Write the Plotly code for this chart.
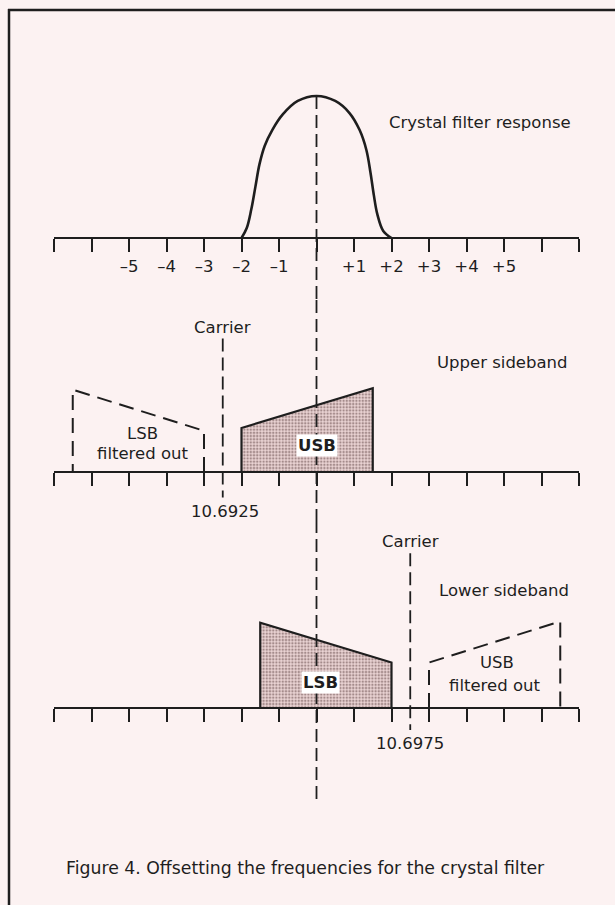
import plotly.graph_objects as go

# ---------------- data ----------------
tick_offsets = list(range(-7, 8))  # kHz offset from filter centre
tick_labels = ["", "", "–5", "–4", "–3", "–2", "–1", "", "+1", "+2", "+3", "+4", "+5", "", ""]

filter_offset = [-2.0, -1.86, -1.74, -1.63, -1.52, -1.38, -1.18, -0.9, -0.5, 0.0,
                 0.5, 0.88, 1.15, 1.33, 1.44, 1.53, 1.62, 1.78, 2.0]
filter_resp = [0.0, 0.07, 0.2, 0.36, 0.52, 0.65, 0.76, 0.87, 0.965, 1.0,
               0.965, 0.88, 0.76, 0.62, 0.46, 0.3, 0.17, 0.05, 0.0]

# Upper sideband panel
usb_carrier = -2.5
usb_carrier_label = "10.6925"
usb_x = [-2.0, -2.0, 1.5, 1.5]
usb_y = [0.0, 0.31, 0.59, 0.0]
lsb_out_x = [-3.0, -3.0, -6.5, -6.5]
lsb_out_y = [0.0, 0.29, 0.58, 0.0]

# Lower sideband panel
lsb_carrier = 2.5
lsb_carrier_label = "10.6975"
lsb_x = [-1.5, -1.5, 2.0, 2.0]
lsb_y = [0.0, 0.60, 0.32, 0.0]
usb_out_x = [3.0, 3.0, 6.5, 6.5]
usb_out_y = [0.0, 0.32, 0.61, 0.0]

# ---------------- layout helpers ----------------
W, H = 615, 905
BG = "#fcf2f2"
INK = "#1e1e1e"
FONT = "DejaVu Sans"
FS = 16.5
PPU = 142.0  # pixels per unit amplitude


def fy(px):
    return 1 - px / H


def fx(px):
    return px / W


# (top px, bottom px, baseline px)
panels = [(40, 300, 238), (300, 520, 472), (520, 800, 708)]
ranges = [[-(b - base) / PPU, (base - t) / PPU] for (t, b, base) in panels]

fig = go.Figure()

dash_c = "13px,6px"
dash_f = "15px,8px"


def add_line(x, y, i, dash=None, width=2.0, color=INK, shape="linear"):
    ax = "" if i == 1 else str(i)
    fig.add_trace(go.Scatter(x=x, y=y, mode="lines", xaxis="x" + ax, yaxis="y" + ax,
                             line=dict(color=color, width=width, dash=dash, shape=shape),
                             hoverinfo="skip", showlegend=False))


def add_fill(x, y, i):
    ax = "" if i == 1 else str(i)
    fig.add_trace(go.Scatter(x=x + [x[0]], y=y + [y[0]], mode="lines", fill="toself",
                             xaxis="x" + ax, yaxis="y" + ax,
                             fillcolor="#e2c8c8",
                             fillpattern=dict(shape=".", fgcolor="#5e4444", bgcolor="#ead3d3",
                                              size=3.2, solidity=0.45),
                             line=dict(color=INK, width=2.2),
                             hoverinfo="skip", showlegend=False))


# Panel 1: crystal filter response
add_line(filter_offset, filter_resp, 1, width=2.6, shape="spline")
add_line([0, 0], [max(filter_resp), ranges[0][0]], 1, dash=dash_c, width=1.8)

# Panel 2: upper sideband
add_fill(usb_x, usb_y, 2)
add_line(lsb_out_x, lsb_out_y, 2, dash=dash_f, width=2.0)
add_line([usb_carrier, usb_carrier], [0.94, -0.18], 2, dash=dash_c, width=1.8)
add_line([0, 0], [ranges[1][1], ranges[1][0]], 2, dash=dash_c, width=1.8)

# Panel 3: lower sideband
add_fill(lsb_x, lsb_y, 3)
add_line(usb_out_x, usb_out_y, 3, dash=dash_f, width=2.0)
add_line([lsb_carrier, lsb_carrier], [1.09, -0.155], 3, dash=dash_c, width=1.8)
add_line([0, 0], [ranges[2][1], ranges[2][0]], 3, dash=dash_c, width=1.8)

# Axes
for i, (t, b, base) in enumerate(panels, start=1):
    sfx = "" if i == 1 else str(i)
    fig.update_layout(**{
        "xaxis" + sfx: dict(domain=[fx(54), fx(579)], range=[-7, 7], anchor="free",
                            position=fy(base), showline=True, linecolor=INK, linewidth=2,
                            ticks="outside", ticklen=13, tickwidth=1.6, tickcolor=INK,
                            tickvals=tick_offsets,
                            ticktext=tick_labels if i == 1 else [""] * len(tick_offsets),
                            showticklabels=(i == 1),
                            tickfont=dict(family=FONT, size=FS, color=INK),
                            showgrid=False, zeroline=False, fixedrange=True),
        "yaxis" + sfx: dict(domain=[fy(b), fy(t)], range=ranges[i - 1], anchor="x" + sfx,
                            visible=False, showgrid=False, zeroline=False, fixedrange=True),
    })


# Annotations
def ann(text, x, y, i, size=FS, bg=None):
    sfx = "" if i == 1 else str(i)
    d = dict(text=text, x=x, y=y, xref="x" + sfx, yref="y" + sfx, showarrow=False,
             font=dict(family=FONT, size=size, color=INK), xanchor="center", yanchor="middle")
    if bg:
        d.update(bgcolor=bg, borderpad=1)
    fig.add_annotation(**d)


ann("Crystal filter response", 4.35, 0.81, 1)
ann("Carrier", usb_carrier, 1.02, 2)
ann(usb_carrier_label, usb_carrier + 0.05, -0.28, 2)
ann("LSB", -4.63, 0.27, 2)
ann("filtered out", -4.63, 0.13, 2)
ann("<b>USB</b>", 0.0, 0.19, 2, bg="#ffffff")
ann("Upper sideband", 4.95, 0.77, 2)

ann("Carrier", lsb_carrier, 1.17, 3)
ann(lsb_carrier_label, lsb_carrier, -0.25, 3)
ann("<b>LSB</b>", 0.1, 0.18, 3, bg="#ffffff")
ann("USB", 4.81, 0.32, 3)
ann("filtered out", 4.75, 0.16, 3)
ann("Lower sideband", 5.0, 0.83, 3)

fig.add_annotation(text="Figure 4. Offsetting the frequencies for the crystal filter",
                   x=fx(305), y=fy(868), xref="paper", yref="paper", showarrow=False,
                   font=dict(family=FONT, size=17.3, color=INK), xanchor="center", yanchor="middle")

# Frame
fig.add_shape(type="line", xref="paper", yref="paper", x0=fx(9), x1=fx(9), y0=fy(9), y1=0,
              line=dict(color=INK, width=2.5))
fig.add_shape(type="line", xref="paper", yref="paper", x0=fx(8), x1=1, y0=fy(10), y1=fy(10),
              line=dict(color=INK, width=2.5))

fig.update_layout(width=W, height=H, margin=dict(l=0, r=0, t=0, b=0),
                  paper_bgcolor=BG, plot_bgcolor="rgba(0,0,0,0)", showlegend=False)

fig.write_html("out.html", config={"displayModeBar": False},
               post_script="document.body.style.margin='0';document.body.style.background='%s';" % BG)
